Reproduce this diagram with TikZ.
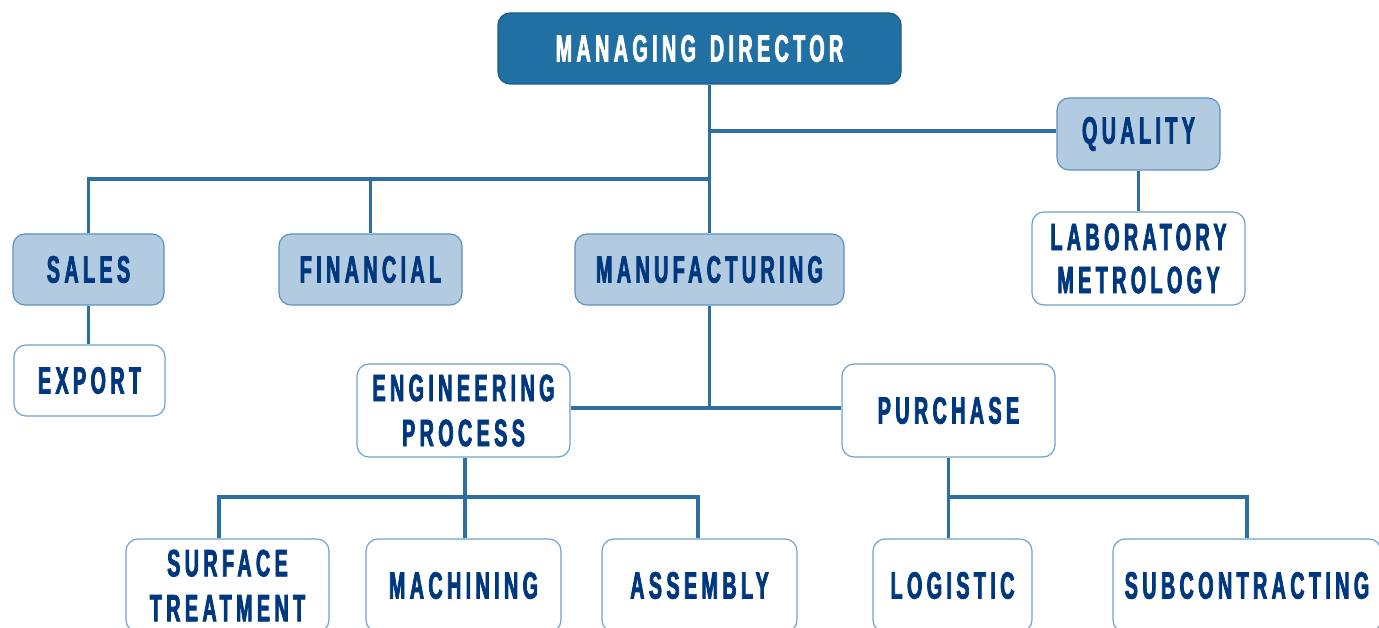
\documentclass[tikz,border=0pt]{standalone}
\usepackage{fontspec}
\setmainfont{Liberation Sans}[FakeStretch=0.52,LetterSpace=11.5,BoldFont={* Bold},BoldFeatures={FakeBold=2}]
\definecolor{mdfill}{HTML}{2070A3}
\definecolor{mdline}{HTML}{1A5C88}
\definecolor{lightfill}{HTML}{B3CBE1}
\definecolor{lightline}{HTML}{5A93C0}
\definecolor{wline}{HTML}{6FA2CC}
\definecolor{conn}{HTML}{2C6FA0}
\definecolor{txt}{HTML}{003880}
\begin{document}
\begin{tikzpicture}[x=1pt,y=-1pt,
  box/.style={rectangle,rounded corners=12pt,inner sep=0pt,align=center,
    font=\fontsize{38}{45}\selectfont\bfseries,text=txt,line width=1.2pt},
  topbox/.style={box,fill=mdfill,draw=mdline,text=white},
  midbox/.style={box,fill=lightfill,draw=lightline},
  lowbox/.style={box,fill=white,draw=wline},
  conn/.style={draw=conn,line width=3.5pt}]
\useasboundingbox (0,0) rectangle (1379,628);
\begin{scope}
\clip (0,0) rectangle (1379,628);
\coordinate (j1) at (709.5,179);
\coordinate (j2) at (709.5,408);
\coordinate (j3) at (465,497);
\node[topbox,minimum width=403pt,minimum height=71pt] (md) at (699.5,48.5) {MANAGING\hspace{4pt} DIRECTOR};
\node[midbox,minimum width=163pt,minimum height=72pt] (quality) at (1138.5,134) {QUALITY};
\node[lowbox,minimum width=213pt,minimum height=93pt,font=\fontsize{38}{43}\selectfont\bfseries] (lab) at (1138.5,258.5) {LABORATORY\\METROLOGY};
\node[midbox,minimum width=151pt,minimum height=71pt] (sales) at (88.5,269.5) {SALES};
\node[midbox,minimum width=183pt,minimum height=71pt] (fin) at (370.5,269.5) {FINANCIAL};
\node[midbox,minimum width=269pt,minimum height=71pt] (manu) at (709.5,269.5) {MANUFACTURING};
\node[lowbox,minimum width=151pt,minimum height=71pt] (export) at (89.5,380.5) {EXPORT};
\node[lowbox,minimum width=213pt,minimum height=93pt] (eng) at (463.5,410.5) {ENGINEERING\\PROCESS};
\node[lowbox,minimum width=213pt,minimum height=93pt] (pur) at (948.5,410.5) {PURCHASE};
\node[lowbox,minimum width=203pt,minimum height=93pt] (surf) at (227.5,585.5) {SURFACE\\TREATMENT};
\node[lowbox,minimum width=195pt,minimum height=93pt] (mach) at (463.5,585.5) {MACHINING};
\node[lowbox,minimum width=195pt,minimum height=93pt] (asm) at (699.5,585.5) {ASSEMBLY};
\node[lowbox,minimum width=159pt,minimum height=93pt] (log) at (952.5,585.5) {LOGISTIC};
\node[lowbox,minimum width=268pt,minimum height=93pt] (sub) at (1247,585.5) {SUBCONTRACTING};
\draw[conn] (md.south -| manu.north) -- (manu.north);
\draw[conn] (quality.west |- 0,131) -- (manu.north |- 0,131);
\draw[conn] (sales.north) |- (j1);
\draw[conn] (fin.north) -- (fin.north |- j1);
\draw[conn] (quality.south) -- (lab.north);
\draw[conn] (sales.south) -- (sales.south |- export.north);
\draw[conn] (manu.south) -- (j2);
\draw[conn] (eng.east |- j2) -- (pur.west |- j2);
\draw[conn] (eng.south -| j3) -- (j3);
\draw[conn] ([xshift=-8.5pt]surf.north) |- (j3) -| ([xshift=-1.5pt]asm.north);
\draw[conn] (j3) -- (mach.north -| j3);
\draw[conn] (pur.south) -- (pur.south |- log.north);
\draw[conn] (pur.south |- j3) -| (sub.north);
\end{scope}
\end{tikzpicture}
\end{document}
